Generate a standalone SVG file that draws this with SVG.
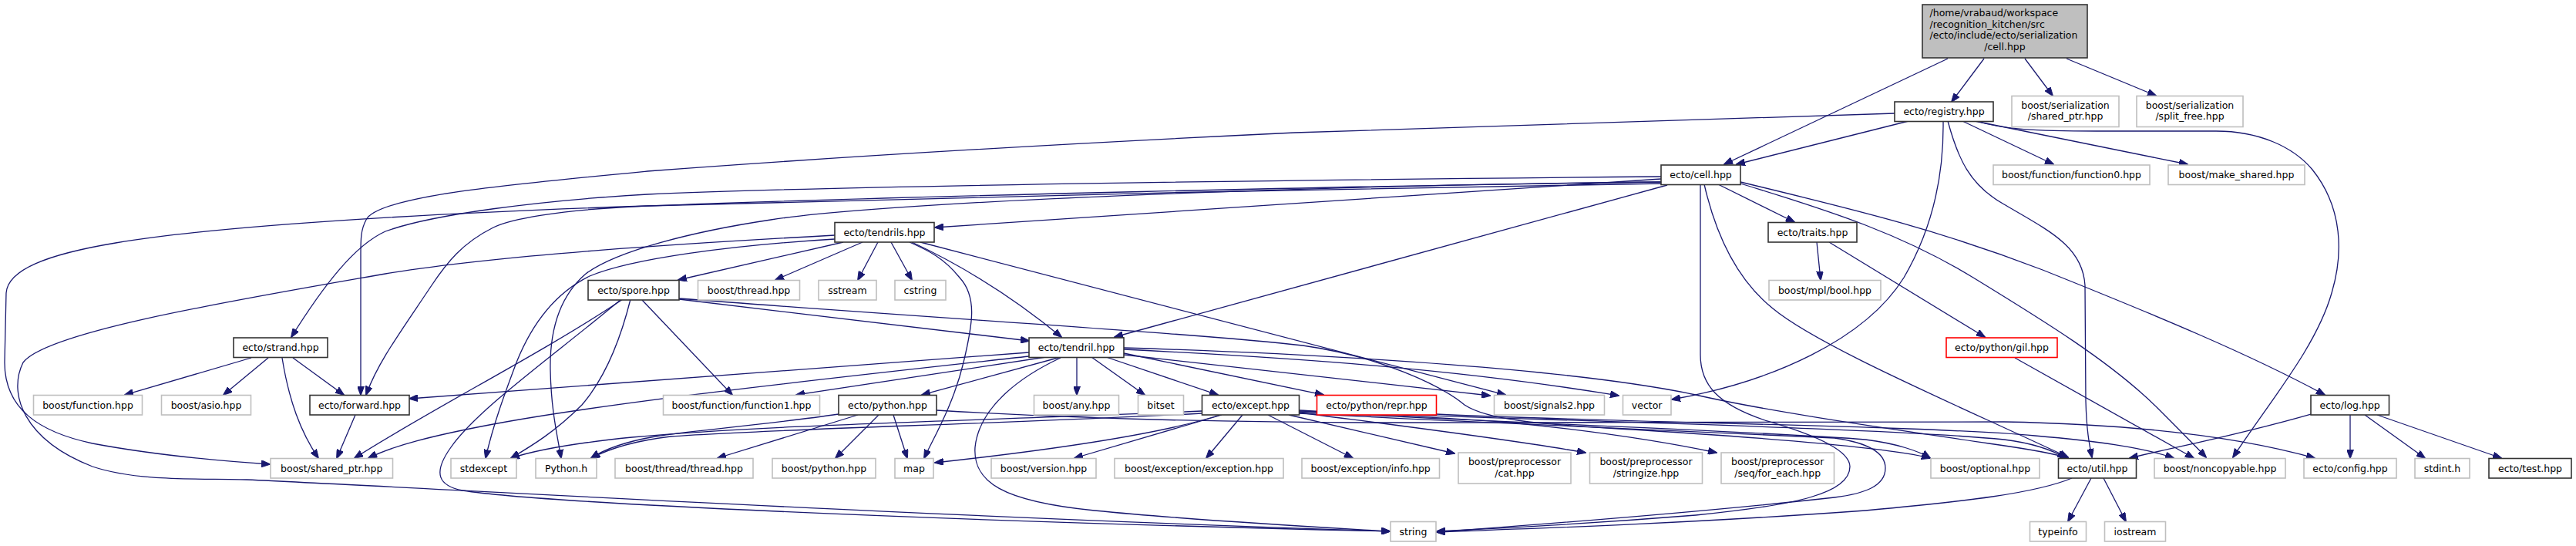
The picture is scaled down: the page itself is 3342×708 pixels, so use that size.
<svg xmlns="http://www.w3.org/2000/svg" width="3342" height="708" viewBox="0 0 3342 708">
<style>
.e{fill:none;stroke:#191970;stroke-width:1.3;marker-end:url(#ah)}
.x rect{fill:#fff;stroke:#bfbfbf;stroke-width:1.6}
.d rect{fill:#fff;stroke:#333;stroke-width:1.6}
.r rect{fill:#fff;stroke:#ff0000;stroke-width:1.6}
.m rect{fill:#bfbfbf;stroke:#333;stroke-width:1.6}
text{font-family:"DejaVu Sans","Liberation Sans",sans-serif;font-size:12.5px;text-anchor:middle;fill:#000}
.l{text-anchor:start}
</style>
<defs>
<marker id="ah" viewBox="0 0 12 9" refX="11" refY="4.5" markerWidth="12" markerHeight="9" orient="auto" markerUnits="userSpaceOnUse"><path d="M0,0L12,4.5L0,9z" fill="#191970" stroke="#191970" stroke-width="1"/></marker>
</defs>
<rect width="3342" height="708" fill="#fff"/>
<g id="edges">
<path class="e" d="M2574,76L2532,132"/>
<path class="e" d="M2627,76L2663,124"/>
<path class="e" d="M2681,76L2797,124"/>
<path class="e" d="M2527,76L2237,213"/>
<path class="e" d="M2476,157L2253,213"/>
<path class="e" d="M2546,157L2664,213"/>
<path class="e" d="M2562,157L2838,213"/>
<path class="e" d="M2564,157C2600,168 2640,170 2720,170L2875,170C2930,170 2975,190 3000,220C3040,270 3040,330 3025,380C3005,450 2945,520 2897,593"/>
<path class="e" d="M2527,157C2540,205 2555,240 2600,265C2660,300 2702,320 2705,370L2706,520C2707,560 2711,578 2714,593"/>
<path class="e" d="M2521,157C2522,230 2505,300 2470,360C2420,440 2300,495 2169,518"/>
<path class="e" d="M2458,147L1680,172C1300,190 1000,210 840,222C650,240 490,255 475,285C468,298 468,310 468,330L468,512"/>
<path class="e" d="M2155,232L1213,295"/>
<path class="e" d="M2229,239L2328,288"/>
<path class="e" d="M2163,240L1446,437"/>
<path class="e" d="M2155,229C1800,232 1100,240 840,252C700,260 560,278 500,300C460,318 420,370 378,437"/>
<path class="e" d="M2155,236C1800,240 1150,255 840,267C720,272 660,285 640,295C600,315 580,340 560,370C520,430 490,470 475,512"/>
<path class="e" d="M2155,238C1800,243 1150,257 840,267C600,275 300,290 150,315C60,330 10,350 8,380L6,470C6,530 50,560 120,575C200,590 290,598 350,602"/>
<path class="e" d="M2155,236C1700,240 1150,262 1000,285C900,300 800,325 760,355C725,385 713,430 714,480C715,530 722,560 728,594"/>
<path class="e" d="M2211,239C2225,300 2250,360 2300,400C2360,450 2550,530 2683,593"/>
<path class="e" d="M2258,238C2380,275 2470,305 2560,360C2650,415 2740,470 2800,530C2830,560 2850,580 2862,593"/>
<path class="e" d="M2258,236C2420,275 2520,300 2650,350C2800,410 2920,460 3016,512"/>
<path class="e" d="M2206,240L2206,460C2206,500 2230,525 2290,545C2360,565 2400,585 2400,605C2400,640 2330,655 2200,668C2050,680 1930,686 1864,689"/>
<path class="e" d="M2357,314L2362,363"/>
<path class="e" d="M2373,314L2575,437"/>
<path class="e" d="M1094,314L880,363"/>
<path class="e" d="M1119,314L1006,363"/>
<path class="e" d="M1139,314L1113,363"/>
<path class="e" d="M1156,314L1183,363"/>
<path class="e" d="M1180,314C1205,325 1225,335 1245,360C1268,385 1262,420 1250,470C1237,525 1210,570 1199,594"/>
<path class="e" d="M1183,314C1260,350 1320,390 1377,437"/>
<path class="e" d="M1194,314L1953,512"/>
<path class="e" d="M1083,305C900,315 650,330 500,355C300,390 60,430 30,470C10,510 30,570 120,605C180,625 260,620 320,622C600,635 1200,670 1803,689"/>
<path class="e" d="M1083,310C950,318 820,335 765,358C720,380 690,420 670,470C655,510 640,550 630,594"/>
<path class="e" d="M881,388L1335,442"/>
<path class="e" d="M833,389L950,512"/>
<path class="e" d="M808,388C700,460 560,530 460,594"/>
<path class="e" d="M818,388C805,440 785,490 755,525C720,560 690,578 663,594"/>
<path class="e" d="M806,388C720,460 620,530 585,580C560,615 570,630 600,636C700,652 1200,675 1803,689"/>
<path class="e" d="M881,387C1200,412 1550,432 1690,448C1790,462 1870,500 1900,525C1930,545 2000,550 2100,556C2300,568 2450,580 2504,594"/>
<path class="e" d="M1335,457L531,517"/>
<path class="e" d="M1335,462C1100,488 800,520 640,550C560,565 510,578 478,594"/>
<path class="e" d="M1357,463L1033,512"/>
<path class="e" d="M1376,463L1196,512"/>
<path class="e" d="M1397,463L1397,512"/>
<path class="e" d="M1416,463L1485,512"/>
<path class="e" d="M1435,463L1580,512"/>
<path class="e" d="M1376,464C1320,490 1270,530 1265,580C1262,625 1300,650 1420,662C1550,675 1700,683 1803,689"/>
<path class="e" d="M1458,458L1717,512"/>
<path class="e" d="M1458,460L1933,513"/>
<path class="e" d="M1458,453C1700,465 1900,480 2100,513"/>
<path class="e" d="M1458,451C1750,460 2050,480 2200,512C2300,535 2480,560 2580,575C2630,582 2665,588 2683,594"/>
<path class="e" d="M1863,537C2100,548 2500,552 2640,565C2720,572 2780,580 2820,594"/>
<path class="e" d="M1113,538L931,594"/>
<path class="e" d="M1140,538L1084,594"/>
<path class="e" d="M1159,538L1177,594"/>
<path class="e" d="M1088,537C1000,550 900,558 850,566C810,573 785,582 767,594"/>
<path class="e" d="M1215,532C1350,540 1550,548 1800,548C2100,548 2450,546 2600,547C2760,550 2900,565 3003,594"/>
<path class="e" d="M1612,538L1565,594"/>
<path class="e" d="M1645,538L1755,594"/>
<path class="e" d="M1585,538L1394,594"/>
<path class="e" d="M1583,538C1500,565 1350,585 1213,600"/>
<path class="e" d="M1559,533C1300,545 1000,550 820,567C750,574 700,582 663,594"/>
<path class="e" d="M1559,536C1300,550 1000,556 870,566C820,572 790,582 767,594"/>
<path class="e" d="M1672,538L1887,588"/>
<path class="e" d="M1685,535C1800,550 1950,568 2057,587"/>
<path class="e" d="M1685,532C1800,538 1900,543 1960,548C2080,560 2170,575 2227,587"/>
<path class="e" d="M1685,534C1950,548 2300,560 2420,570C2460,575 2490,585 2504,594"/>
<path class="e" d="M1685,533C2000,545 2450,555 2600,570C2640,575 2665,585 2680,594"/>
<path class="e" d="M1685,536C1950,550 2250,560 2380,568C2430,575 2446,590 2446,607C2446,630 2420,640 2380,645C2200,665 2000,680 1864,690"/>
<path class="e" d="M2998,537C2900,565 2820,580 2763,594"/>
<path class="e" d="M3049,538L3049,594"/>
<path class="e" d="M3068,538L3146,594"/>
<path class="e" d="M3084,538L3245,594"/>
<path class="e" d="M2713,620L2683,676"/>
<path class="e" d="M2729,620L2758,676"/>
<path class="e" d="M2688,620C2640,640 2550,650 2420,662C2200,678 2000,685 1864,690"/>
<path class="e" d="M2614,464L2846,594"/>
<path class="e" d="M326,464L162,512"/>
<path class="e" d="M348,464L290,512"/>
<path class="e" d="M380,464L446,512"/>
<path class="e" d="M366,464C375,520 390,560 413,594"/>
<path class="e" d="M461,538L437,594"/>
</g>
<g id="n_main" class="m"><rect x="2494" y="6" width="214" height="69"/><text class="l" x="2503.5" y="21">/home/vrabaud/workspace</text><text class="l" x="2503.5" y="35.7">/recognition_kitchen/src</text><text class="l" x="2503.5" y="50.4">/ecto/include/ecto/serialization</text><text x="2601" y="65.1">/cell.hpp</text></g>
<g id="n_registry" class="d"><rect x="2458" y="132" width="128" height="25.5"/><text x="2522" y="149.2">ecto/registry.hpp</text></g>
<g id="n_ser_shared" class="x"><rect x="2610" y="124.5" width="139" height="40"/><text x="2679.5" y="140.8">boost/serialization</text><text x="2679.5" y="155.3">/shared_ptr.hpp</text></g>
<g id="n_split_free" class="x"><rect x="2772" y="124.5" width="138" height="40"/><text x="2841" y="140.8">boost/serialization</text><text x="2841" y="155.3">/split_free.hpp</text></g>
<g id="n_cell" class="d"><rect x="2155" y="214" width="103" height="25.5"/><text x="2206.5" y="231.2">ecto/cell.hpp</text></g>
<g id="n_function0" class="x"><rect x="2586" y="214" width="203" height="25.5"/><text x="2687.5" y="231.2">boost/function/function0.hpp</text></g>
<g id="n_make_shared" class="x"><rect x="2813" y="214" width="177" height="25.5"/><text x="2901.5" y="231.2">boost/make_shared.hpp</text></g>
<g id="n_tendrils" class="d"><rect x="1083" y="288.5" width="129" height="25.5"/><text x="1147.5" y="305.7">ecto/tendrils.hpp</text></g>
<g id="n_traits" class="d"><rect x="2294" y="288.5" width="115" height="25.5"/><text x="2351.5" y="305.7">ecto/traits.hpp</text></g>
<g id="n_spore" class="d"><rect x="763" y="363.5" width="118" height="25.5"/><text x="822" y="380.7">ecto/spore.hpp</text></g>
<g id="n_bthread" class="x"><rect x="905.5" y="363.5" width="132" height="25.5"/><text x="971.5" y="380.7">boost/thread.hpp</text></g>
<g id="n_sstream" class="x"><rect x="1062" y="363.5" width="75" height="25.5"/><text x="1099.5" y="380.7">sstream</text></g>
<g id="n_cstring" class="x"><rect x="1161" y="363.5" width="66" height="25.5"/><text x="1194" y="380.7">cstring</text></g>
<g id="n_mplbool" class="x"><rect x="2295" y="363.5" width="145" height="25.5"/><text x="2367.5" y="380.7">boost/mpl/bool.hpp</text></g>
<g id="n_strand" class="d"><rect x="303" y="438" width="122" height="25.5"/><text x="364" y="455.2">ecto/strand.hpp</text></g>
<g id="n_tendril" class="d"><rect x="1335" y="438" width="123" height="25.5"/><text x="1396.5" y="455.2">ecto/tendril.hpp</text></g>
<g id="n_gil" class="r"><rect x="2525" y="438" width="144" height="25.5"/><text x="2597" y="455.2">ecto/python/gil.hpp</text></g>
<g id="n_function" class="x"><rect x="43.5" y="512.5" width="141" height="25.5"/><text x="114" y="529.7">boost/function.hpp</text></g>
<g id="n_asio" class="x"><rect x="209.5" y="512.5" width="116" height="25.5"/><text x="267.5" y="529.7">boost/asio.hpp</text></g>
<g id="n_forward" class="d"><rect x="402" y="512.5" width="129" height="25.5"/><text x="466.5" y="529.7">ecto/forward.hpp</text></g>
<g id="n_function1" class="x"><rect x="860.5" y="512.5" width="203" height="25.5"/><text x="962" y="529.7">boost/function/function1.hpp</text></g>
<g id="n_python" class="d"><rect x="1088" y="512.5" width="127" height="25.5"/><text x="1151.5" y="529.7">ecto/python.hpp</text></g>
<g id="n_any" class="x"><rect x="1341.5" y="512.5" width="110" height="25.5"/><text x="1396.5" y="529.7">boost/any.hpp</text></g>
<g id="n_bitset" class="x"><rect x="1476.5" y="512.5" width="59" height="25.5"/><text x="1506" y="529.7">bitset</text></g>
<g id="n_except" class="d"><rect x="1559.5" y="512.5" width="126" height="25.5"/><text x="1622.5" y="529.7">ecto/except.hpp</text></g>
<g id="n_repr" class="r"><rect x="1708.5" y="512.5" width="155" height="25.5"/><text x="1786" y="529.7">ecto/python/repr.hpp</text></g>
<g id="n_signals2" class="x"><rect x="1938.5" y="512.5" width="143" height="25.5"/><text x="2010" y="529.7">boost/signals2.hpp</text></g>
<g id="n_vector" class="x"><rect x="2105.5" y="512.5" width="62.5" height="25.5"/><text x="2136.7" y="529.7">vector</text></g>
<g id="n_log" class="d"><rect x="2998" y="512.5" width="101.5" height="25.5"/><text x="3048.7" y="529.7">ecto/log.hpp</text></g>
<g id="n_shared_ptr" class="x"><rect x="351" y="594.5" width="158.5" height="25.5"/><text x="430.2" y="611.7">boost/shared_ptr.hpp</text></g>
<g id="n_stdexcept" class="x"><rect x="585" y="594.5" width="85" height="25.5"/><text x="627.5" y="611.7">stdexcept</text></g>
<g id="n_pythonh" class="x"><rect x="695" y="594.5" width="79" height="25.5"/><text x="734.5" y="611.7">Python.h</text></g>
<g id="n_threadthread" class="x"><rect x="798" y="594.5" width="179" height="25.5"/><text x="887.5" y="611.7">boost/thread/thread.hpp</text></g>
<g id="n_bpython" class="x"><rect x="1002" y="594.5" width="134" height="25.5"/><text x="1069" y="611.7">boost/python.hpp</text></g>
<g id="n_map" class="x"><rect x="1161" y="594.5" width="50" height="25.5"/><text x="1186" y="611.7">map</text></g>
<g id="n_version" class="x"><rect x="1286" y="594.5" width="136" height="25.5"/><text x="1354" y="611.7">boost/version.hpp</text></g>
<g id="n_exception" class="x"><rect x="1446" y="594.5" width="219" height="25.5"/><text x="1555.5" y="611.7">boost/exception/exception.hpp</text></g>
<g id="n_info" class="x"><rect x="1689" y="594.5" width="178.5" height="25.5"/><text x="1778.2" y="611.7">boost/exception/info.hpp</text></g>
<g id="n_cat" class="x"><rect x="1892" y="587" width="146" height="40"/><text x="1965" y="603.3">boost/preprocessor</text><text x="1965" y="618.3">/cat.hpp</text></g>
<g id="n_stringize" class="x"><rect x="2062.5" y="587" width="146" height="40"/><text x="2135.5" y="603.3">boost/preprocessor</text><text x="2135.5" y="618.3">/stringize.hpp</text></g>
<g id="n_foreach" class="x"><rect x="2233" y="587" width="146.5" height="40"/><text x="2306.2" y="603.3">boost/preprocessor</text><text x="2306.2" y="618.3">/seq/for_each.hpp</text></g>
<g id="n_optional" class="x"><rect x="2505" y="594.5" width="141" height="25.5"/><text x="2575.5" y="611.7">boost/optional.hpp</text></g>
<g id="n_util" class="d"><rect x="2670.5" y="594.5" width="101" height="25.5"/><text x="2721" y="611.7">ecto/util.hpp</text></g>
<g id="n_noncopyable" class="x"><rect x="2795" y="594.5" width="170" height="25.5"/><text x="2880" y="611.7">boost/noncopyable.hpp</text></g>
<g id="n_config" class="x"><rect x="2989" y="594.5" width="120" height="25.5"/><text x="3049" y="611.7">ecto/config.hpp</text></g>
<g id="n_stdint" class="x"><rect x="3133" y="594.5" width="71" height="25.5"/><text x="3168.5" y="611.7">stdint.h</text></g>
<g id="n_test" class="d"><rect x="3229" y="594.5" width="107" height="25.5"/><text x="3282.5" y="611.7">ecto/test.hpp</text></g>
<g id="n_string" class="x"><rect x="1804" y="676.5" width="59" height="25.5"/><text x="1833.5" y="693.7">string</text></g>
<g id="n_typeinfo" class="x"><rect x="2633.5" y="676.5" width="73" height="25.5"/><text x="2670" y="693.7">typeinfo</text></g>
<g id="n_iostream" class="x"><rect x="2730.5" y="676.5" width="79" height="25.5"/><text x="2770" y="693.7">iostream</text></g>
</svg>
